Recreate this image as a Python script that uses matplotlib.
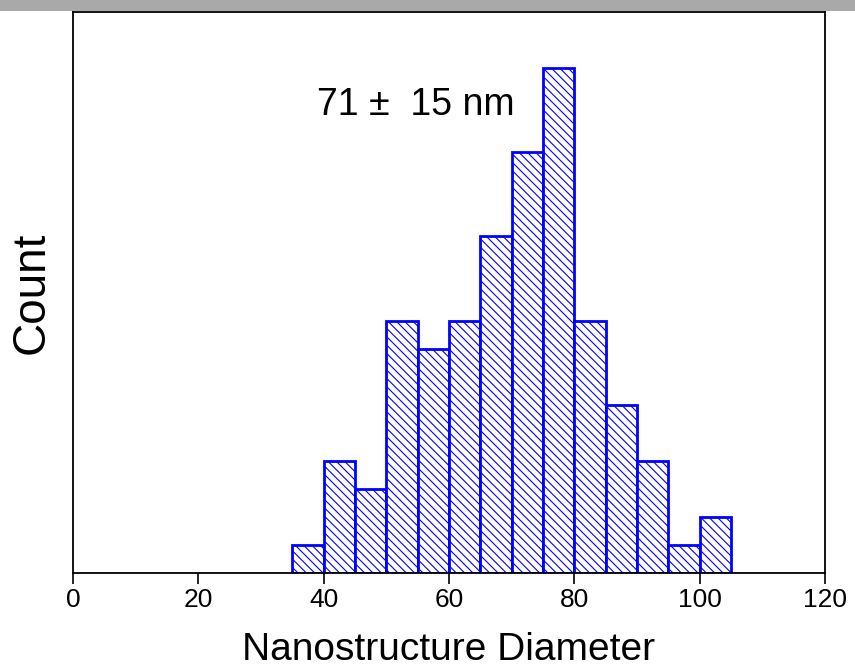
import matplotlib
matplotlib.use("Agg")
import matplotlib.pyplot as plt
from matplotlib.patches import Rectangle

# histogram bins (nm) and counts
bin_left = [35, 40, 45, 50, 55, 60, 65, 70, 75, 80, 85, 90, 95, 100]
counts = [1, 4, 3, 9, 8, 9, 12, 15, 18, 9, 6, 4, 1, 2]
bin_width = 5
xticks = [0, 20, 40, 60, 80, 100, 120]

plt.rcParams['font.family'] = ['Liberation Sans', 'DejaVu Sans']
plt.rcParams['hatch.linewidth'] = 0.8
plt.rcParams['hatch.color'] = '#1a1aff'

fig = plt.figure(figsize=(8.55, 6.71), dpi=100)
# grey strip along the top edge of the screenshot
fig.patches.append(Rectangle((0, 0.983), 1, 0.017, transform=fig.transFigure,
                             facecolor='#a9a9a9', edgecolor='none', zorder=0))
ax = fig.add_axes([0.0854, 0.146, 0.8796, 0.836])

ax.bar(bin_left, counts, width=bin_width, align='edge', facecolor='white',
       edgecolor='#0000ff', linewidth=2.0, hatch='\\\\\\\\')

ax.set_xlim(0, 120)
ax.set_ylim(0, 20)
ax.set_xticks(xticks)
ax.set_yticks([])
ax.tick_params(axis='x', direction='out', length=8, width=1.2, labelsize=19, pad=3)
for s in ax.spines.values():
    s.set_linewidth(1.3)

ax.set_xlabel('Nanostructure Diameter', fontsize=28, labelpad=14)
ax.set_ylabel('Count', fontsize=33, labelpad=14)
ax.text(0.4555, 0.835, '71 ±  15 nm', transform=ax.transAxes, fontsize=27,
        ha='center', va='center')

fig.savefig('out.png', dpi=100)
